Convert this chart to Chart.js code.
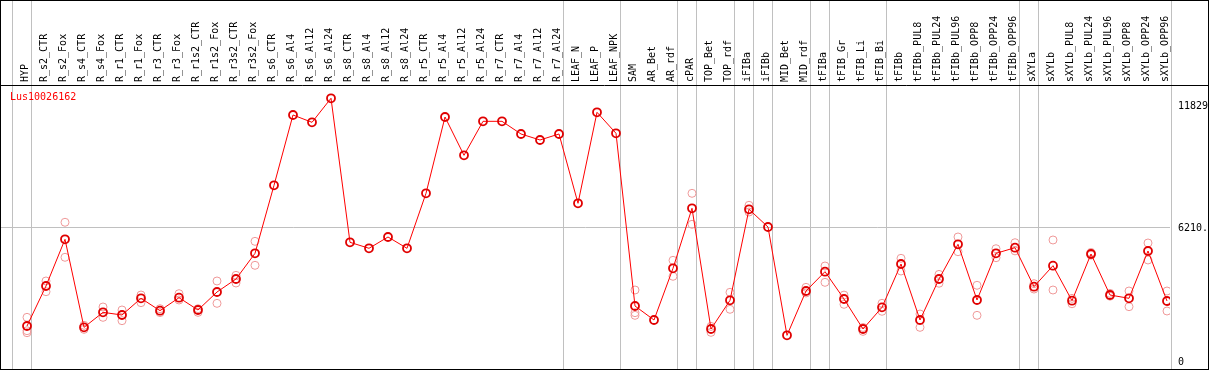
<!DOCTYPE html>
<html>
<head>
<meta charset="utf-8">
<script src="https://cdn.jsdelivr.net/npm/chart.js@4/dist/chart.umd.min.js"></script>
<style>
  html, body { margin: 0; padding: 0; background: #fff; }
  #wrap { width: 1209px; height: 370px; }
</style>
</head>
<body>
<div id="wrap"><canvas id="myChart" width="1209" height="370"></canvas></div>
<script>
const geneName = "Lus10026162";
const categories = ["HYP", "R_s2_CTR", "R_s2_Fox", "R_s4_CTR", "R_s4_Fox", "R_r1_CTR", "R_r1_Fox",
  "R_r3_CTR", "R_r3_Fox", "R_r1s2_CTR", "R_r1s2_Fox", "R_r3s2_CTR", "R_r3s2_Fox",
  "R_s6_CTR", "R_s6_Al4", "R_s6_Al12", "R_s6_Al24", "R_s8_CTR", "R_s8_Al4", "R_s8_Al12", "R_s8_Al24",
  "R_r5_CTR", "R_r5_Al4", "R_r5_Al12", "R_r5_Al24", "R_r7_CTR", "R_r7_Al4", "R_r7_Al12", "R_r7_Al24",
  "LEAF_N", "LEAF_P", "LEAF_NPK", "SAM", "AR_Bet", "AR_rdf", "cPAR", "TOP_Bet", "TOP_rdf",
  "iFIBa", "iFIBb", "MID_Bet", "MID_rdf", "tFIBa", "tFIB_Gr", "tFIB_Li", "tFIB_Bi", "tFIBb",
  "tFIBb_PUL8", "tFIBb_PUL24", "tFIBb_PUL96", "tFIBb_OPP8", "tFIBb_OPP24", "tFIBb_OPP96",
  "sXYLa", "sXYLb", "sXYLb_PUL8", "sXYLb_PUL24", "sXYLb_PUL96", "sXYLb_OPP8", "sXYLb_OPP24", "sXYLb_OPP96"];

// mean expression per sample
const means = [1668, 3522, 5686, 1606, 2302, 2178, 2951, 2379, 2981, 2410, 3244, 3846, 5036,
  8187, 11446, 11107, 12220, 5546, 5269, 5793, 5269, 7817, 11353, 9578, 11153, 11153, 10566, 10288, 10566,
  7354, 11570, 10598, 2595, 1946, 4341, 7122, 1529, 2858, 7076, 6256, 1236, 3290, 4186, 2919, 1529, 2533,
  4541, 1946, 3846, 5454, 2873, 5036, 5297, 3491, 4464, 2842, 5005, 3105, 2951, 5144, 2827];

// replicates (null = no replicate shown)
const rep1 = [2070, 3754, 6474, 1514, 2549, 2410, 3105, 2470, 3166, 2470, 3754, 4017, 5592,
  null, null, null, null, null, null, null, null, null, null, null, null, null, null, null, null,
  null, null, null, 3336, null, 4712, 7817, 1650, 3230, 7261, null, null, 3460, 4449, 3100, 1420, 2720,
  4805, 2224, 4060, 5793, 3554, 5250, 5528, 3630, 5654, 2700, 5070, 3180, 3290, 5515, 3290];
const rep2 = [1450, 3258, 4852, 1700, 2070, 1915, 2750, 2290, 2873, 2300, 2719, 3661, 4480,
  null, null, null, null, null, null, null, null, null, null, null, null, null, null, null, null,
  null, null, null, 2286, null, 3971, 6381, 1375, 2442, 6950, null, null, 3200, 3692, 2673, 1600, 2350,
  4217, 1606, 3650, 5111, 2163, 4833, 5150, 3380, 3336, 2950, 4950, 3050, 2564, 4727, 2363];
const rep3 = [1358, null, null, null, null, null, null, null, null, null, null, null, null,
  null, null, null, null, null, null, null, null, null, null, null, null, null, null, null, null,
  null, null, null, 2163, null, null, null, null, null, null, null, null, null, null, null, null, null,
  null, null, null, null, null, null, null, null, null, null, null, null, null, null, null];

// last sample index of each group (-1 = left edge)
const groupEnds = [-1, 0, 28, 31, 34, 35, 37, 38, 39, 41, 42, 45, 52, 53, 60];
const yTicks = [0, 6210, 11829];

const monoFont = { family: "'DejaVu Sans Mono', monospace", size: 10 };

const repPoints = [];
[rep1, rep2, rep3].forEach((arr) => {
  arr.forEach((v, i) => { if (v !== null) repPoints.push({ x: i, y: v }); });
});

const framePlugin = {
  id: "frame",
  beforeDraw(chart) {
    const ctx = chart.ctx;
    const x = chart.scales.x;
    ctx.save();
    ctx.fillStyle = "#fff";
    ctx.fillRect(0, 0, chart.width, chart.height);
    ctx.strokeStyle = "#c0c0c0";
    ctx.lineWidth = 1;
    groupEnds.forEach((g) => {
      const px = Math.round(x.getPixelForValue(g + 0.19)) + 0.5;
      ctx.beginPath();
      ctx.moveTo(px, 0);
      ctx.lineTo(px, chart.chartArea.bottom);
      ctx.stroke();
    });
    ctx.restore();
  },
  afterDraw(chart) {
    const ctx = chart.ctx;
    const area = chart.chartArea;
    ctx.save();
    ctx.strokeStyle = "#000";
    ctx.lineWidth = 1;
    ctx.strokeRect(0.5, 0.5, 1208, 369);
    ctx.beginPath();
    ctx.moveTo(0, Math.round(area.top) + 0.5);
    ctx.lineTo(1209, Math.round(area.top) + 0.5);
    ctx.stroke();
    ctx.fillStyle = "#ff0000";
    ctx.font = "10px 'DejaVu Sans Mono', monospace";
    ctx.textBaseline = "middle";
    ctx.fillText(geneName, 10, area.top + 12);
    ctx.restore();
  }
};

const config = {
  type: "scatter",
  data: {
    datasets: [
      {
        label: "mean",
        data: means.map((v, i) => ({ x: i, y: v })),
        showLine: true,
        borderColor: "#ff0000",
        borderWidth: 1,
        pointRadius: 4,
        pointBorderWidth: 1.8,
        pointBorderColor: "#e00000",
        pointBackgroundColor: "rgba(0,0,0,0)",
      },
      {
        label: "replicates",
        data: repPoints,
        showLine: false,
        pointRadius: 4,
        pointBorderWidth: 1,
        pointBorderColor: "#f09a9a",
        pointBackgroundColor: "rgba(0,0,0,0)",
      },
    ],
  },
  options: {
    responsive: false,
    animation: false,
    layout: { autoPadding: false, padding: { left: 1, bottom: 1, top: 0, right: 0 } },
    plugins: { legend: { display: false }, tooltip: { enabled: false }, title: { display: false } },
    scales: {
      x: {
        type: "linear",
        position: "top",
        min: -26 / 19,
        max: -26 / 19 + 1169 / 19,
        afterBuildTicks: (scale) => { scale.ticks = categories.map((c, i) => ({ value: i })); },
        afterFit: (scale) => {
          scale.height = 85;
          scale.paddingLeft = 0;
          scale.paddingRight = 0;
        },
        grid: { display: false, drawTicks: false },
        border: { display: false },
        ticks: {
          autoSkip: false,
          maxRotation: 90,
          minRotation: 90,
          padding: 3,
          labelOffset: 10,
          color: "#000",
          font: monoFont,
          callback: (v) => categories[v],
        },
      },
      y: {
        type: "linear",
        position: "right",
        min: -324,
        max: 12836,
        afterBuildTicks: (scale) => { scale.ticks = yTicks.map((v) => ({ value: v })); },
        afterFit: (scale) => {
          scale.width = 39;
          scale.paddingTop = 0;
          scale.paddingBottom = 0;
        },
        grid: {
          drawTicks: false,
          color: (c) => (c.tick && c.tick.value === 6210 ? "#c0c0c0" : "rgba(0,0,0,0)"),
        },
        border: { display: false },
        ticks: {
          padding: 8,
          color: "#000",
          font: monoFont,
          callback: (v) => (v === 6210 ? "6210." : String(v)),
        },
      },
    },
  },
  plugins: [framePlugin],
};

new Chart(document.getElementById("myChart").getContext("2d"), config);
</script>
</body>
</html>
